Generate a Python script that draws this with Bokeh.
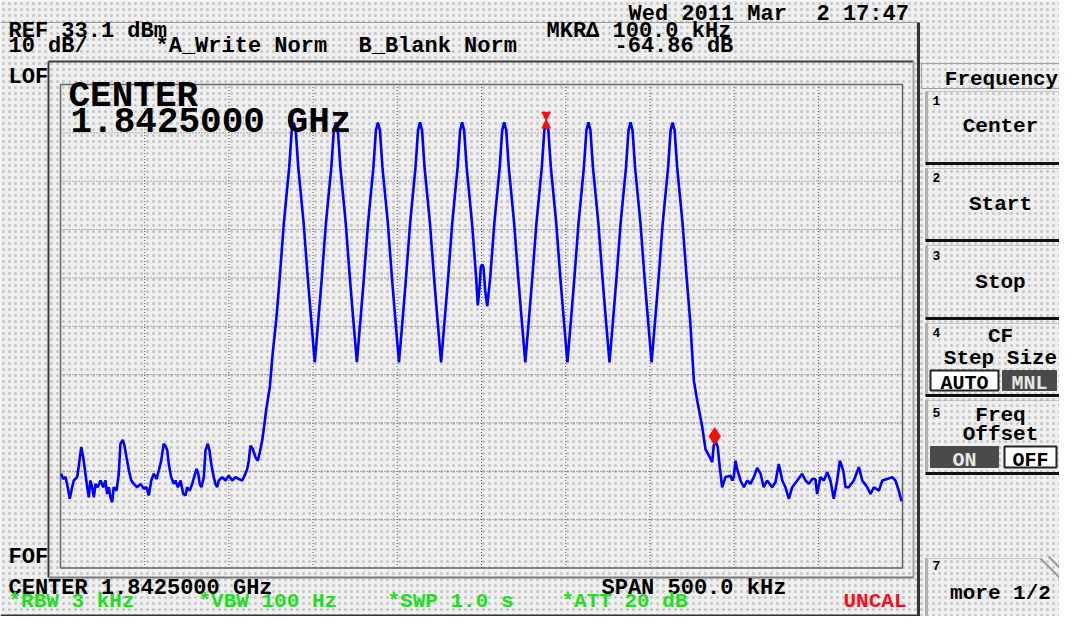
from bokeh.plotting import figure
from bokeh.models import Range1d, BoxAnnotation, Label
from bokeh.embed import file_html
from bokeh.resources import INLINE
from bokeh.core.properties import value

# ---------------- instrument settings ----------------
CENTER_GHZ = 1.8425
SPAN_KHZ = 500.0
REF_DBM = 33.1
DB_PER_DIV = 10
N_XDIV = 10
N_YDIV = 10

# ---------------- trace A (offset from centre in kHz, level in dBm) ----------------
freq_khz = [
    -249.6, -248.4, -247.0, -245.7, -244.5, -243.1, -242.1, -240.1, -239.1, -237.7,
    -236.5, -235.2, -234.1, -233.2, -232.2, -231.2, -230.2, -229.2, -227.9, -226.2,
    -224.6, -223.3, -222.3, -221.3, -220.3, -219.3, -218.4, -216.7, -215.4, -214.4,
    -213.0, -212.0, -210.8, -209.4, -208.0, -206.5, -204.5, -202.5, -200.5, -198.9,
    -197.6, -196.1, -194.6, -193.0, -191.6, -190.2, -188.7, -187.7, -186.6, -185.7,
    -184.3, -182.7, -181.7, -180.3, -178.7, -177.1, -175.8, -174.8, -173.2, -171.8,
    -170.4, -169.2, -168.2, -167.3, -166.3, -164.9, -163.9, -162.5, -161.5, -160.5,
    -159.0, -158.0, -157.0, -156.0, -154.0, -152.0, -150.1, -148.0, -146.1, -144.1,
    -142.1, -140.7, -139.1, -138.2, -137.2, -135.8, -134.2, -132.8, -131.6, -130.2,
    -128.9, -127.9, -126.7, -125.7, -124.0,
    -121.9, -119.8, -117.4, -114.2, -112.7, -111.5, -110.3, -108.8, -105.6, -103.2, -101.1, -99.0,
    -96.9, -94.8, -92.4, -89.2, -87.7, -86.5, -85.3, -83.8, -80.6, -78.2, -76.1, -74.0,
    -71.9, -69.8, -67.4, -64.2, -62.7, -61.5, -60.3, -58.8, -55.6, -53.2, -51.1, -49.0,
    -46.9, -44.8, -42.4, -39.2, -37.7, -36.5, -35.3, -33.8, -30.6, -28.2, -26.1, -24.0,
    -21.9, -19.8, -17.4, -14.2, -12.7, -11.5, -10.3, -8.8, -5.6, -3.2,
    -2.2, -1.2, -0.4, 0.4, 1.2, 2.2, 3.4,
    5.2, 7.6, 10.8, 12.3, 13.5, 14.7, 16.2, 19.4, 21.8, 23.9, 26.0,
    28.1, 30.2, 32.6, 35.8, 37.3, 38.5, 39.7, 41.2, 44.4, 46.8, 48.9, 51.0,
    53.1, 55.2, 57.6, 60.8, 62.3, 63.5, 64.7, 66.2, 69.4, 71.8, 73.9, 76.0,
    78.1, 80.2, 82.6, 85.8, 87.3, 88.5, 89.7, 91.2, 94.4, 96.8, 98.9, 101.0,
    103.1, 105.2, 107.6, 110.8, 112.3, 113.5, 114.7, 116.2, 119.4, 121.8, 123.9,
    126.1, 128.1, 129.6, 131.1, 133.0, 135.0, 137.0, 137.9, 138.9, 140.3, 141.5, 142.9,
    144.9, 147.9, 148.9, 149.8, 150.8, 151.8, 153.8, 155.8, 157.8, 159.7,
    161.7, 163.7, 165.7, 167.6, 169.6, 172.6, 174.6, 176.5, 178.6, 180.5,
    182.5, 184.5, 187.5, 190.4, 192.4, 194.4, 196.4, 198.3, 199.3, 201.3,
    203.3, 205.3, 207.2, 209.2, 211.2, 212.8, 214.8, 216.2, 218.1, 221.1,
    224.1, 226.1, 229.1, 231.0, 233.0, 236.0, 238.0, 240.9, 243.9, 245.8,
    247.8, 249.4,
]
level_dbm = [
    -47.4, -48.5, -48.1, -50.2, -52.6, -50.2, -48.8, -48.1, -45.7, -41.9,
    -44.0, -47.4, -50.2, -52.3, -48.8, -50.2, -52.3, -49.5, -50.2, -48.8,
    -50.2, -48.8, -51.6, -50.2, -52.3, -53.3, -50.2, -50.9, -47.4, -41.2,
    -40.4, -41.6, -44.0, -46.7, -48.8, -49.5, -50.2, -49.5, -50.5, -50.2,
    -51.9, -48.8, -47.4, -48.5, -46.7, -44.7, -41.2, -41.6, -42.6, -45.4,
    -48.1, -49.5, -48.8, -50.2, -48.8, -51.6, -51.9, -50.2, -50.9, -49.5,
    -47.8, -46.4, -47.4, -49.5, -50.2, -48.1, -42.6, -41.2, -42.6, -45.4,
    -48.1, -49.5, -50.2, -48.8, -48.1, -48.8, -47.8, -48.8, -48.1, -48.5,
    -48.8, -47.8, -46.4, -44.7, -41.6, -42.3, -44.0, -44.7, -42.9, -40.5,
    -37.1, -34.3, -31.6, -29.5, -22.5,
    -15.7, -6.8, 4.4, 15.9, 23.6, 25.2, 23.6, 15.9, 4.4, -6.8, -15.7, -24.4,
    -15.7, -6.8, 4.4, 15.9, 23.6, 25.3, 23.6, 15.9, 4.4, -6.8, -15.7, -24.3,
    -15.7, -6.8, 4.4, 15.9, 23.6, 25.2, 23.6, 15.9, 4.4, -6.8, -15.7, -24.4,
    -15.7, -6.8, 4.4, 15.9, 23.6, 25.3, 23.6, 15.9, 4.4, -6.8, -15.7, -24.4,
    -15.7, -6.8, 4.4, 15.9, 23.6, 25.3, 23.6, 15.9, 4.4, -6.8,
    -12.6, -9.0, -4.6, -4.1, -4.8, -9.5, -12.8,
    -6.8, 4.4, 15.9, 23.6, 25.3, 23.6, 15.9, 4.4, -6.8, -15.7, -24.4,
    -15.7, -6.8, 4.4, 15.9, 23.6, 25.2, 23.6, 15.9, 4.4, -6.8, -15.7, -24.4,
    -15.7, -6.8, 4.4, 15.9, 23.6, 25.3, 23.6, 15.9, 4.4, -6.8, -15.7, -24.4,
    -15.7, -6.8, 4.4, 15.9, 23.6, 25.3, 23.6, 15.9, 4.4, -6.8, -15.7, -24.4,
    -15.7, -6.8, 4.4, 15.9, 23.6, 25.2, 23.6, 15.9, 4.4, -6.8, -15.7,
    -28.1, -32.3, -35.0, -37.8, -42.3, -43.6, -45.0, -41.6, -40.5, -41.9, -46.1, -50.2,
    -48.1, -47.8, -48.8, -48.1, -44.7, -46.4, -48.8, -50.2, -48.8, -49.5,
    -48.1, -46.2, -47.4, -50.2, -48.8, -50.2, -49.1, -45.4, -48.8, -50.2,
    -52.6, -50.2, -48.8, -47.4, -48.8, -49.5, -48.5, -48.5, -51.6, -48.1,
    -48.8, -47.1, -48.8, -52.6, -48.8, -44.7, -46.7, -50.2, -50.2, -48.8,
    -46.0, -48.8, -50.2, -51.6, -50.2, -50.9, -48.8, -48.5, -48.1, -48.8,
    -50.9, -53.1,
]

# ---------------- markers ----------------
marker_ref_khz = 38.5
marker_ref_dbm = 25.2
marker_delta_khz = 100.0
marker_delta_db = -64.86

# ---------------- annotation texts ----------------
date_parts = ["Wed 2011 Mar", "2 17:47"]
trace_a_text = "*A_Write Norm"
trace_b_text = "B_Blank Norm"
scale_text = f"{DB_PER_DIV} dB/"
settings_texts = ["*RBW 3 kHz", "*VBW 100 Hz", "*SWP 1.0 s", "*ATT 20 dB"]
status_text = "UNCAL"
menu_title = "Frequency"
softkey_numbers = ["1", "2", "3", "4", "5", "7"]
softkey_lines = [["Center"], ["Start"], ["Stop"], ["CF", "Step Size"], ["Freq", "Offset"], ["more 1/2"]]

# ---------------- page geometry (pixels) ----------------
W, H = 1059, 616
X0, Y0 = 0, 0
G_L, G_R, G_T, G_B = 60.0, 902.0, 84.0, 567.5

px_per_khz = (G_R - G_L) / SPAN_KHZ
px_per_db = (G_B - G_T) / (DB_PER_DIV * N_YDIV)
x_start = -SPAN_KHZ / 2 - (G_L - X0) / px_per_khz
x_end = SPAN_KHZ / 2 + (X0 + W - G_R) / px_per_khz
y_top = REF_DBM + (G_T - Y0) / px_per_db
y_bot = REF_DBM - DB_PER_DIV * N_YDIV - (Y0 + H - G_B) / px_per_db

BG = "#efefef"
p = figure(width=W, height=H, x_range=Range1d(x_start, x_end), y_range=Range1d(y_bot, y_top),
           output_backend="svg", toolbar_location=None,
           x_axis_location=None, y_axis_location=None, min_border=0,
           outline_line_color=None, background_fill_color=BG, border_fill_color=BG)
p.grid.visible = False
p.extra_x_ranges = {"px": Range1d(X0, X0 + W)}
p.extra_y_ranges = {"px": Range1d(Y0 + H, Y0)}
PX = dict(x_range_name="px", y_range_name="px")

# dotted screen texture
p.add_layout(BoxAnnotation(fill_alpha=0, line_color=None, hatch_pattern="dot", hatch_scale=6,
                           hatch_color="#c4c4c4", hatch_weight=1, level="underlay"))

FONT = "Liberation Mono"
TEXT_SHIFT = 0.24   # em, compensates the rendered baseline offset


def seg(x0, y0, x1, y1, color, width, dash="solid"):
    p.segment(x0=[x0], y0=[y0], x1=[x1], y1=[y1], line_color=color, line_width=width,
              line_dash=dash, **PX)


def box(l, t, r, b, fill, line, lw=1.0):
    p.quad(left=[l], right=[r], top=[t], bottom=[b], fill_color=fill, line_color=line,
           line_width=lw, **PX)


def label(x, y, s, size=22, color="#000000", align="left", font=FONT, style="bold"):
    p.add_layout(Label(x=x, y=y - TEXT_SHIFT * size, text=s, text_font=font,
                       text_font_size=f"{size}px", text_color=color, text_align=align,
                       text_baseline="alphabetic", text_font_style=style, **PX))


# ---------------- screen frames ----------------
seg(X0, 22, 918, 22, "#9a9a9a", 1)
seg(X0, 615, 918, 615, "#333333", 2)
seg(918, 22, 918, 619, "#333333", 3)
seg(48, 61, 913, 61, "#3c3c3c", 2)
seg(48, 61, 48, 577, "#3c3c3c", 2)
seg(913, 61, 913, 577, "#a8a8a8", 2)
seg(48, 577, 913, 577, "#7a7a7a", 2)

# ---------------- graticule (data space) ----------------
g_left, g_right = -SPAN_KHZ / 2, SPAN_KHZ / 2
g_top, g_bottom = REF_DBM, REF_DBM - DB_PER_DIV * N_YDIV
xdiv = [g_left + i * SPAN_KHZ / N_XDIV for i in range(1, N_XDIV)]
ydiv = [g_bottom + i * DB_PER_DIV for i in range(1, N_YDIV)]
p.segment(x0=xdiv, y0=[g_bottom] * len(xdiv), x1=xdiv, y1=[g_top] * len(xdiv),
          line_color="#5a5a5a", line_width=1, line_dash="1 2")
p.segment(x0=[g_left] * len(ydiv), y0=ydiv, x1=[g_right] * len(ydiv), y1=ydiv,
          line_color="#5a5a5a", line_width=1, line_dash="1 2")
p.quad(left=[g_left], right=[g_right], top=[g_top], bottom=[g_bottom], fill_alpha=0,
       line_color="#666666", line_width=1.5)

# ---------------- trace ----------------
p.line(freq_khz, level_dbm, line_color="#0000ff", line_width=2.6)

# ---------------- markers ----------------
p.scatter([marker_ref_khz + marker_delta_khz], [marker_ref_dbm + marker_delta_db],
          marker="diamond", size=17, color="#ee1111")
p.text(x=[marker_ref_khz], y=[marker_ref_dbm], text=["▼"], text_font=value("DejaVu Sans"),
       text_font_size="13px", text_align="center", text_baseline="alphabetic",
       text_color="#ee1111", y_offset=-7)
p.text(x=[marker_ref_khz], y=[marker_ref_dbm], text=["▲"], text_font=value("DejaVu Sans"),
       text_font_size="13px", text_align="center", text_baseline="alphabetic",
       text_color="#ee1111", y_offset=0)

# ---------------- header / footer texts ----------------
label(628, 19, date_parts[0])
label(816, 19, date_parts[1])
label(8, 36, f"REF {REF_DBM} dBm")
label(546, 36, f"MKRΔ {marker_delta_khz:.1f} kHz")
label(8, 51, scale_text)
label(155, 51, trace_a_text)
label(358, 51, trace_b_text)
label(614, 51, f"{marker_delta_db:.2f} dB")
label(8, 82, "LOF")
label(8, 562, "FOF")
label(68, 105, "CENTER", size=36)
label(70, 131, f"{CENTER_GHZ:.7f} GHz", size=36)
label(8, 593, f"CENTER {CENTER_GHZ:.7f} GHz")
label(601, 593, f"SPAN {SPAN_KHZ:.1f} kHz")
GREEN = "#22dd22"
for xs, s in zip([8, 198, 387, 561], settings_texts):
    label(xs, 606, s, size=21, color=GREEN)
label(843, 606, status_text, size=21, color="#ee1122")

# ---------------- softkey panel ----------------
box(921, 63, 1075, 88, None, "#a0a0a0", 1)
label(1001, 84, menu_title, size=21, align="center")

btn_tops = [91, 168, 245, 323, 400, 558]
btn_bottoms = [163, 240, 318, 395, 473, 631]
num_baselines = [103, 180, 258, 335, 415, 568]
text_baselines = [[131], [209], [287], [341, 363], [420, 439], [598]]
for i, (t, b) in enumerate(zip(btn_tops, btn_bottoms)):
    right = 1040 if softkey_numbers[i] == "7" else 1075
    seg(925, t, right, t, "#9a9a9a", 1, "1 1")
    seg(926, t, 926, b, "#b0b0b0", 3)
    seg(925, b, 1075, b, "#111111", 3)
    label(932, num_baselines[i], softkey_numbers[i], size=13)
    for s, yb in zip(softkey_lines[i], text_baselines[i]):
        label(1000, yb, s, size=21, align="center")
seg(1040, 558, 1059, 577, "#9a9a9a", 2)
seg(1048, 556, 1059, 567, "#9a9a9a", 2)

# toggles
box(930, 370, 998, 390, "#ffffff", "#222222", 2)
label(964, 388, "AUTO", size=20, align="center")
box(1002, 370, 1056, 390, "#4a4a4a", "#4a4a4a", 1)
label(1029, 388, "MNL", size=20, align="center", color="#e6e6e6")
box(930, 446, 998, 467, "#4a4a4a", "#4a4a4a", 1)
label(964, 465, "ON", size=20, align="center", color="#e6e6e6")
box(1004, 446, 1056, 467, "#ffffff", "#222222", 2)
label(1030, 465, "OFF", size=20, align="center")

open("out.html", "w").write(file_html(p, INLINE))
